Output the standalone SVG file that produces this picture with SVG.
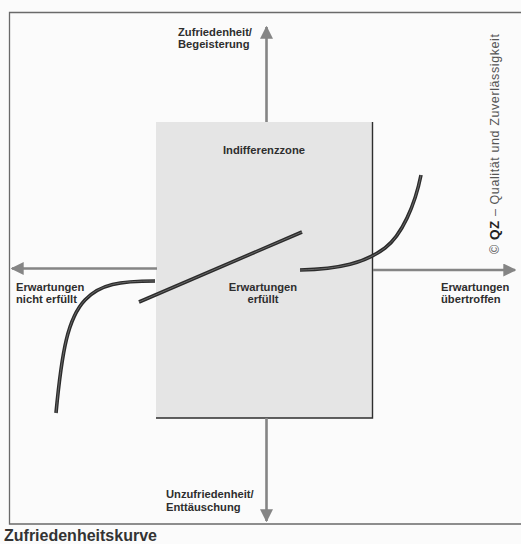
<svg xmlns="http://www.w3.org/2000/svg" width="521" height="544" viewBox="0 0 521 544">
<style>
.lbl{font-family:"Liberation Sans",Arial,sans-serif;font-weight:bold;font-size:11.2px;fill:#2e2e2e}
.axis{stroke:#858585;stroke-width:2.6;fill:none}
.curve{stroke:#2b2b2b;stroke-width:3.6;fill:none;stroke-linecap:butt}
.hl{stroke:#6e6e6e;stroke-width:0.9;fill:none}
.frame{stroke:#6a6a6a;stroke-width:1.3;fill:none}
</style>
<defs>
<marker id="ah" viewBox="0 0 10 10" refX="9" refY="5" markerWidth="5" markerHeight="5" orient="auto" markerUnits="strokeWidth">
<path d="M0,0 L10,5 L0,10 z" fill="#858585"/>
</marker>
</defs>
<rect x="0" y="0" width="521" height="544" fill="#fbfbfb"/>
<g id="frame">
<path class="frame" d="M521,12.5 H9.5 V524 H521"/>
</g>
<g id="zone">
<rect x="156" y="122" width="216" height="296" fill="#e5e5e5"/>
<path d="M372.5,122 V418 H156" stroke="#2e2e2e" stroke-width="1.4" fill="none"/>
<text class="lbl" x="264" y="154" text-anchor="middle">Indifferenzzone</text>
<text class="lbl" x="263" y="291" text-anchor="middle">Erwartungen</text>
<text class="lbl" x="263" y="303" text-anchor="middle">erfüllt</text>
</g>
<g id="connectors">
<line class="axis" x1="266.5" y1="122" x2="266.5" y2="27" marker-end="url(#ah)"/>
<line class="axis" x1="266.5" y1="418" x2="266.5" y2="521" marker-end="url(#ah)"/>
<line class="axis" x1="157" y1="268.5" x2="12" y2="268.5" marker-end="url(#ah)"/>
<line class="axis" x1="373" y1="270" x2="515" y2="270" marker-end="url(#ah)"/>
<path class="curve" d="M56,413 C62,350 68,318 85,300 C100,284 120,281 155,281"/>
<path class="hl" d="M56,413 C62,350 68,318 85,300 C100,284 120,281 155,281"/>
<path class="curve" d="M139,302 L302,232"/>
<path class="hl" d="M139,302 L302,232"/>
<path class="curve" d="M300,270 C340,269 365,263 385,248 C402,235 415,205 421,175"/>
<path class="hl" d="M300,270 C340,269 365,263 385,248 C402,235 415,205 421,175"/>
</g>
<g id="label-top">
<text class="lbl" x="178" y="36">Zufriedenheit/</text>
<text class="lbl" x="178" y="48">Begeisterung</text>
</g>
<g id="label-left">
<text class="lbl" x="16" y="291">Erwartungen</text>
<text class="lbl" x="16" y="303">nicht erfüllt</text>
</g>
<g id="label-right">
<text class="lbl" x="441" y="291">Erwartungen</text>
<text class="lbl" x="441" y="303">übertroffen</text>
</g>
<g id="label-bottom">
<text class="lbl" x="166" y="498">Unzufriedenheit/</text>
<text class="lbl" x="166" y="511">Enttäuschung</text>
</g>
<g id="credit">
<text transform="translate(499,254) rotate(-90)" font-family="Liberation Sans,Arial,sans-serif" font-size="12.5" fill="#555" textLength="220" lengthAdjust="spacing"><tspan>© </tspan><tspan font-weight="bold" fill="#222" font-size="13.5">QZ</tspan><tspan> – Qualität und Zuverlässigkeit</tspan></text>
</g>
<text x="4" y="541" font-family="Liberation Sans,Arial,sans-serif" font-weight="bold" font-size="16" fill="#333">Zufriedenheitskurve</text>
</svg>
